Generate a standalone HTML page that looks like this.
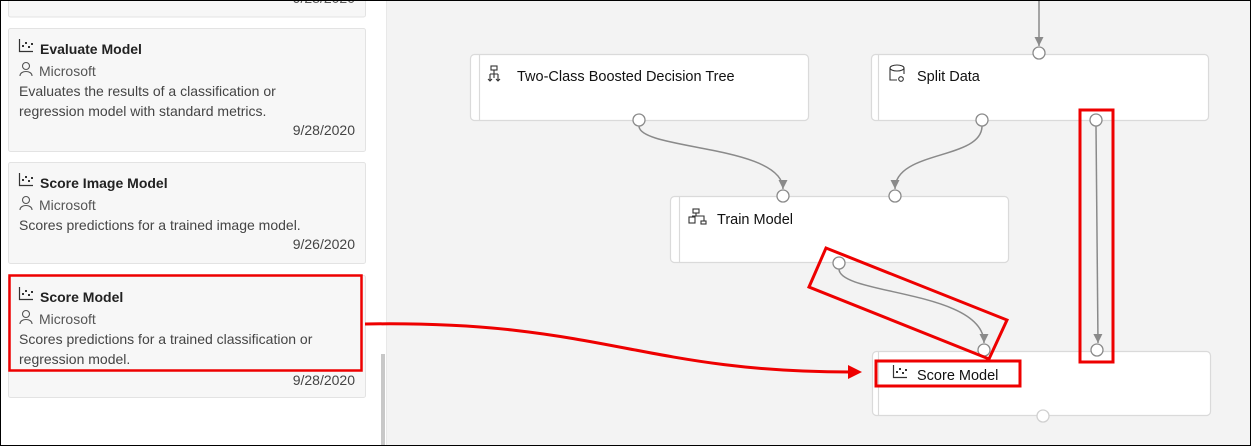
<!DOCTYPE html>
<html><head><meta charset="utf-8"><style>
html,body{margin:0;padding:0;width:1251px;height:446px;overflow:hidden;background:#fff}
svg{display:block}
text{font-family:"Liberation Sans",sans-serif}
</style></head><body>
<svg width="1251" height="446" viewBox="0 0 1251 446" xmlns="http://www.w3.org/2000/svg">
<defs>
<marker id="ga" markerWidth="9" markerHeight="9" refX="9" refY="4.5" orient="auto" markerUnits="userSpaceOnUse"><path d="M0,0 L9,4.5 L0,9 z" fill="#8a8a8a"/></marker>
<g id="chart"><path d="M0.5,0 V12.5 H14" fill="none" stroke="#333" stroke-width="1.2"/><rect x="3" y="6" width="2" height="2" fill="#333"/><rect x="6" y="3" width="2" height="2" fill="#333"/><rect x="9" y="7" width="2" height="2" fill="#333"/><rect x="12" y="4" width="2" height="2" fill="#333"/></g>
<g id="user"><circle cx="7" cy="4" r="3.5" fill="none" stroke="#555" stroke-width="1.1"/><path d="M1,14 C1,8 13,8 13,14" fill="none" stroke="#555" stroke-width="1.1"/></g>
</defs>
<rect x="0" y="0" width="1251" height="446" fill="#fff"/>
<rect x="387" y="0" width="864" height="446" fill="#f3f3f3"/>
<line x1="386.5" y1="0" x2="386.5" y2="446" stroke="#e8e8e8"/>
<rect x="381" y="354" width="4" height="92" fill="#c8c8c8"/>
<rect x="8.5" y="-5" width="357" height="22" rx="2" fill="#f7f7f7" stroke="#e3e3e3"/>
<text x="355" y="3" font-size="14" fill="#555" text-anchor="end">9/28/2020</text>
<g font-size="14" fill="#444">
<rect x="8.5" y="28.5" width="357" height="123" rx="2" fill="#f7f7f7" stroke="#e3e3e3"/>
<use href="#chart" x="19" y="39"/>
<text x="40" y="54" font-size="14" fill="#222" font-weight="bold">Evaluate Model</text>
<use href="#user" x="19" y="62"/>
<text x="39" y="76" font-size="14" fill="#555">Microsoft</text>
<text x="19" y="96">Evaluates the results of a classification or</text>
<text x="19" y="116">regression model with standard metrics.</text>
<text x="355" y="135" text-anchor="end">9/28/2020</text>

<rect x="8.5" y="162.5" width="357" height="101" rx="2" fill="#f7f7f7" stroke="#e3e3e3"/>
<use href="#chart" x="19" y="173"/>
<text x="40" y="188" font-size="14" fill="#222" font-weight="bold">Score Image Model</text>
<use href="#user" x="19" y="196"/>
<text x="39" y="210" font-size="14" fill="#555">Microsoft</text>
<text x="19" y="230">Scores predictions for a trained image model.</text>
<text x="355" y="249" text-anchor="end">9/26/2020</text>

<rect x="8.5" y="275.5" width="357" height="122" rx="2" fill="#f7f7f7" stroke="#e3e3e3"/>
<use href="#chart" x="19" y="287"/>
<text x="40" y="302" font-size="14" fill="#222" font-weight="bold">Score Model</text>
<use href="#user" x="19" y="310"/>
<text x="39" y="324" font-size="14" fill="#555">Microsoft</text>
<text x="19" y="344">Scores predictions for a trained classification or</text>
<text x="19" y="364">regression model.</text>
<text x="355" y="385" text-anchor="end">9/28/2020</text>
</g>
<rect x="9.5" y="275.5" width="352" height="95" fill="none" stroke="#e00" stroke-width="2.5"/>
<g fill="#fff" stroke="#dadada" stroke-width="1.2">
<rect x="470.5" y="54.5" width="338" height="66" rx="4"/>
<rect x="871.5" y="54.5" width="337" height="66" rx="4"/>
<rect x="670.5" y="196.5" width="338" height="66" rx="4"/>
<rect x="872.5" y="351.5" width="338" height="64" rx="4"/>
</g>
<g stroke="#dadada" stroke-width="1.2">
<line x1="479.5" y1="55" x2="479.5" y2="120"/>
<line x1="878.5" y1="55" x2="878.5" y2="120"/>
<line x1="679.5" y1="197" x2="679.5" y2="262"/>
<line x1="878.5" y1="352" x2="878.5" y2="415"/>
</g>
<g font-size="14.5" fill="#111">
<text x="517" y="81">Two-Class Boosted Decision Tree</text>
<text x="917" y="81">Split Data</text>
<text x="717" y="224">Train Model</text>
<text x="917" y="380">Score Model</text>
</g>
<g fill="none" stroke="#333" stroke-width="1.1">
<rect x="491" y="66" width="6" height="4"/><path d="M494,70 V78 M490,74 H498 M490,74 V81 M498,74 V81 M488,79 L490,81 L492,79 M496,79 L498,81 L500,79"/>
<path d="M890,68 V80 H897 M904,68 V74 M890,68 A7,3 0 0 1 904,68 A7,3 0 0 1 890,68"/><circle cx="901" cy="79" r="2.3"/>
<rect x="693" y="209" width="6" height="4"/><path d="M696,213 V216 M692,216 H704 V221"/><rect x="689" y="217" width="6" height="6"/><rect x="701" y="221" width="5" height="3"/>
</g>
<use href="#chart" x="893" y="365"/>
<g fill="none" stroke="#8a8a8a" stroke-width="1.5">
<path d="M1039,0 V46" marker-end="url(#ga)"/>
<path d="M639,126 C639,150 783,145 783,189" marker-end="url(#ga)"/>
<path d="M982,126 C982,160 895,150 895,189" marker-end="url(#ga)"/>
<path d="M1096,126 L1098,343" marker-end="url(#ga)"/>
<path d="M839,269 C839,295 984,290 984,343" marker-end="url(#ga)"/>
</g>
<g fill="#fff" stroke="#8a8a8a" stroke-width="1.3">
<circle cx="1039" cy="53" r="6"/><circle cx="639" cy="120" r="6"/><circle cx="982" cy="120" r="6"/><circle cx="1096" cy="120" r="6"/>
<circle cx="783" cy="196" r="6"/><circle cx="895" cy="196" r="6"/><circle cx="839" cy="263" r="6"/>
<circle cx="984" cy="350" r="6"/><circle cx="1097" cy="350" r="6"/>
<circle cx="1043" cy="416" r="6" stroke="#d0d0d0"/>
</g>
<g fill="none" stroke="#e00" stroke-width="3">
<rect x="876" y="361" width="144" height="25"/>
<rect x="1080" y="110" width="33" height="252"/>
<path d="M809,287 L826,248 L1007,320 L989,359 Z"/>
<path d="M365,324 C600,320 640,372 850,372"/>
</g>
<path d="M848,365 L862,372 L848,379 Z" fill="#e00"/>
<rect x="0.5" y="0.5" width="1250" height="445" fill="none" stroke="#000"/>
</svg>
</body></html>
